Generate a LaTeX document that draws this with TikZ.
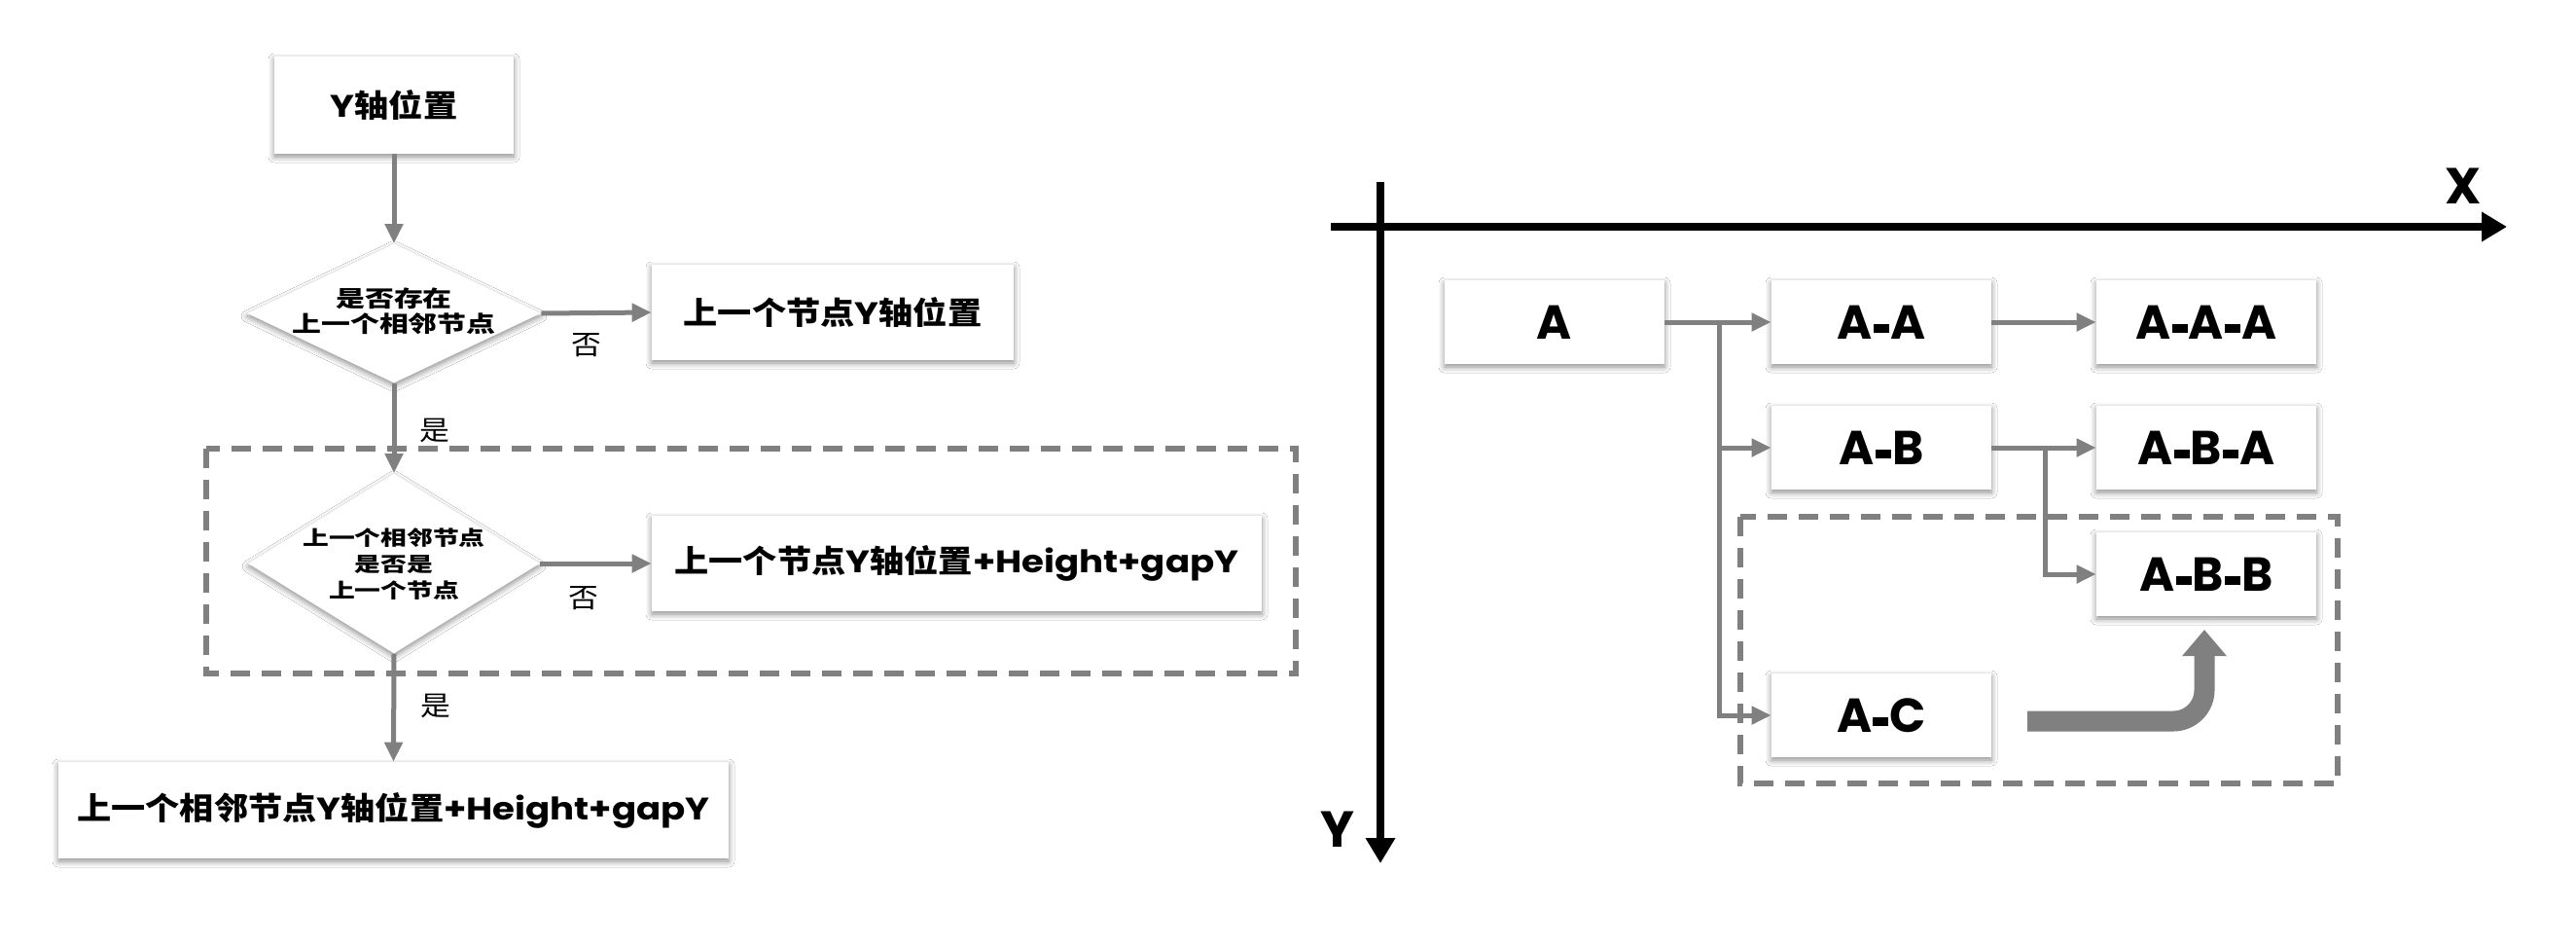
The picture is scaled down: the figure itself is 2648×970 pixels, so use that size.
\documentclass[tikz,border=0pt]{standalone}
\usepackage{fontspec}
\setmainfont{Poppins}
\newfontfamily\latw{Poppins}[FakeStretch=1.16]
\newfontfamily\cjk{Noto Sans CJK SC}[FakeStretch=1.1]
\newfontfamily\cjkw{Noto Sans CJK SC}[FakeStretch=1.3]
\newcommand\zh[1]{{\cjk #1}}
\newcommand\zhw[1]{{\cjkw #1}}
\newcommand\hy{\kern0.6pt\rule[3pt]{8pt}{4.6pt}\kern0.6pt}
\usetikzlibrary{shapes.geometric,arrows.meta,shadows.blur}
\definecolor{cgray}{RGB}{128,128,128}
\tikzset{
  shad/.style={blur shadow={shadow xshift=0pt, shadow yshift=-1.5pt, shadow blur radius=3pt, shadow blur steps=6, shadow opacity=45}},
  boxn/.style={rectangle, fill=white, inner sep=0pt, shad, font=\fontsize{16}{19}\selectfont\latw\bfseries},
  dia/.style={diamond, fill=white, inner sep=0pt, shad},
  dtxt/.style={align=center, inner sep=0pt, font=\bfseries},
  conn/.style={draw=cgray, line width=2.5pt, -{Triangle[length=10pt,width=9pt]}},
  lbl/.style={inner sep=0pt, font=\fontsize{14}{16}\selectfont\cjk},
  dbox/.style={draw=cgray, line width=3pt, dash pattern=on 10pt off 6pt},
  abox/.style={boxn, minimum width=113pt, minimum height=43pt, font=\fontsize{24.5}{27}\selectfont\bfseries},
  axis/.style={line width=4pt, -{Triangle[length=13pt,width=14.5pt]}},
  axlbl/.style={inner sep=0pt, font=\fontsize{26}{28}\selectfont\bfseries},
  bigarrow/.style={draw=cgray, line width=10.5pt, rounded corners=16pt, -{Triangle[length=13.5pt,width=22pt]}},
}
\begin{document}
\begin{tikzpicture}[x=0.5pt,y=-0.5pt]
\useasboundingbox[fill=white] (0,0) rectangle (2648,970);

% ---------- left flowchart ----------
\draw[dbox] (212,461) rectangle (1332,692);

\node[boxn, minimum width=123pt, minimum height=50pt] (n1) at (405,108) {Y\zh{轴位置}};
\node[dia, minimum width=151pt, minimum height=71.5pt] (d1) at (405,322) {};
\node[dtxt, font=\fontsize{11.5}{13}\selectfont\bfseries] (d1t) at (405,320) {\zhw{是否存在}\\\zhw{上一个相邻节点}};
\node[boxn, minimum width=186pt, minimum height=49pt] (n2) at (856,321) {\zh{上一个节点}Y\zh{轴位置}};
\node[dia, minimum width=150pt, minimum height=92.5pt] (d2) at (405,579) {};
\node[dtxt, font=\fontsize{10.3}{13.5}\selectfont\bfseries] (d2t) at (405,580) {\zhw{上一个相邻节点}\\\zhw{是否是}\\\zhw{上一个节点}};
\node[boxn, minimum width=313.5pt, minimum height=49pt] (n3) at (983.5,579) {\zh{上一个节点}Y\zh{轴位置}+Height+gapY};
\node[boxn, minimum width=344.5pt, minimum height=49.5pt] (n4) at (404.5,832.5) {\zh{上一个相邻节点}Y\zh{轴位置}+Height+gapY};

\draw[conn] (n1.south) -- (d1.north);
\draw[conn] (d1.east) -- (n2.west);
\draw[conn] (d1.south) -- (d2.north);
\draw[conn] (d2.east) -- (n3.west);
\draw[conn] (d2.south) -- (n4.north);

\node[lbl] (l1) at (603,355) {否};
\node[lbl] (l2) at (447,442) {是};
\node[lbl] (l3) at (600,615) {否};
\node[lbl] (l4) at (448,725) {是};

% ---------- right tree ----------
\coordinate (xs) at (1368,233);
\coordinate (xe) at (2577,233);
\coordinate (ys) at (1419,187);
\coordinate (ye) at (1419,887);
\draw[axis] (xs) -- (xe);
\draw[axis] (ys) -- (ye);
\node[axlbl] (X) at (2532,191) {X};
\node[axlbl] (Y) at (1375,852) {Y};

\draw[dbox] (1789,531) rectangle (2403,805);

\node[abox] (A)   at (1598,331) {A};
\node[abox] (AA)  at (1934,331) {A\hy A};
\node[abox] (AAA) at (2268,331) {A\hy A\hy A};
\node[abox] (AB)  at (1934,460) {A\hy B};
\node[abox] (ABA) at (2268,460) {A\hy B\hy A};
\node[abox] (ABB) at (2268,590) {A\hy B\hy B};
\node[abox] (AC)  at (1934,735) {A\hy C};

\coordinate (jA) at (1767,331);
\coordinate (jB) at (2102,460);
\draw[conn] (A.east) -- (AA.west);
\draw[conn] (AA.east) -- (AAA.west);
\draw[conn] (jA) |- (AB.west);
\draw[conn] (jA) |- (AC.west);
\draw[conn] (AB.east) -- (ABA.west);
\draw[conn] (jB) |- (ABB.west);

\coordinate (ts) at (2084,741);
\coordinate (tc) at (2266,741);
\coordinate (te) at (2266,647);
\draw[bigarrow] (ts) -- (tc) -- (te);
\end{tikzpicture}
\end{document}
